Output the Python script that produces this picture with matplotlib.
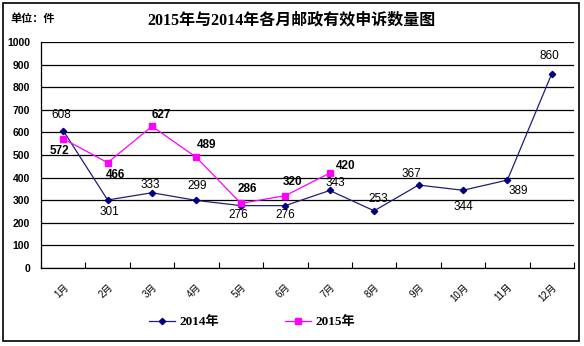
import matplotlib
matplotlib.use("Agg")
import matplotlib.pyplot as plt
from matplotlib.patches import Rectangle

months = ["1月", "2月", "3月", "4月", "5月", "6月", "7月", "8月", "9月", "10月", "11月", "12月"]
values_2014 = [608, 301, 333, 299, 276, 276, 343, 253, 367, 344, 389, 860]
values_2015 = [572, 466, 627, 489, 286, 320, 420]
series_names = ["2014年", "2015年"]
yticks = [0, 100, 200, 300, 400, 500, 600, 700, 800, 900, 1000]
title = "2015年与2014年各月邮政有效申诉数量图"
unit_label = "单位：件"

# label offsets (pixels) - layout only
off_2014 = [(-2, 16), (2, -12), (-2, 8), (1, 14), (-3, -9), (0, -9), (6, 7), (4, 12), (-7, 11), (0, -17), (11, -11), (-2, 18)]
off_2015 = [(-4, -12), (8, -12), (9, 11), (10, 12), (6, 14), (7, 14), (16, 7)]

CJK = ["Liberation Sans", "Noto Sans CJK SC"]
SERIF_CJK = ["Liberation Serif", "Noto Sans CJK SC"]

fig = plt.figure(figsize=(5.84, 3.46), dpi=100)
ax = fig.add_axes([41/584, 1-268/346, (574-41)/584, (268-42)/346])

x1 = list(range(len(values_2014)))
x2 = list(range(len(values_2015)))
l1, = ax.plot(x1, values_2014, color="#1f1f7a", lw=0.9, marker="D", ms=3.2,
              mfc="#000080", mec="#000080", zorder=3)
l2, = ax.plot(x2, values_2015, color="#ff00ff", lw=0.9, marker="s", ms=5,
              mfc="#ff00ff", mec="#ff00ff", zorder=4)

for xi, v, o in zip(x1, values_2014, off_2014):
    ax.annotate(str(v), (xi, v), xytext=o, textcoords="offset pixels",
                ha="center", va="center", fontsize=8.5, family="Liberation Sans",
                color="black", zorder=5)
for xi, v, o in zip(x2, values_2015, off_2015):
    ax.annotate(str(v), (xi, v), xytext=o, textcoords="offset pixels",
                ha="center", va="center", fontsize=8.5, family="Liberation Sans",
                fontweight="bold", color="black", zorder=5)

ax.set_xlim(-0.5, len(months) - 0.5)
ax.set_ylim(0, 1000)
ax.set_yticks(yticks)
ax.set_yticklabels([str(t) for t in yticks], fontsize=7.5, fontweight="bold",
                   family="Liberation Sans")
ax.tick_params(axis="y", length=0, pad=8)
ax.yaxis.grid(True, color="black", lw=0.9)
ax.set_axisbelow(True)

ax.set_xticks([i - 0.5 for i in range(len(months) + 1)])
ax.set_xticklabels([])
ax.tick_params(axis="x", direction="in", length=4, width=0.8)
ax.set_xticks(range(len(months)), minor=True)
ax.set_xticklabels(months, minor=True, rotation=45, ha="right",
                   rotation_mode="anchor", fontsize=7, family=CJK)
ax.tick_params(axis="x", which="minor", length=0, pad=10)

for s in ["top", "right"]:
    ax.spines[s].set_visible(False)
ax.spines["left"].set_linewidth(0.9)
ax.spines["bottom"].set_linewidth(0.9)

fig.text(292/584, 1-20/346, title, ha="center", va="center", fontsize=11.5,
         fontweight="bold", family=SERIF_CJK)
fig.text(10/584, 1-19/346, unit_label, ha="left", va="center", fontsize=8,
         fontweight="bold", family=CJK)

leg = fig.legend([l1, l2], series_names, loc="center", bbox_to_anchor=(252/584, 1-322/346),
                 ncol=2, frameon=False, prop={"family": SERIF_CJK, "weight": "bold", "size": 9.5},
                 handlelength=2.0, columnspacing=5.0, handletextpad=0.3)

fig.patches.append(Rectangle((3/584, 5/346), 576/584, 338/346, transform=fig.transFigure,
                             fill=False, edgecolor="black", lw=1.2))

fig.savefig("out.png", dpi=100)
